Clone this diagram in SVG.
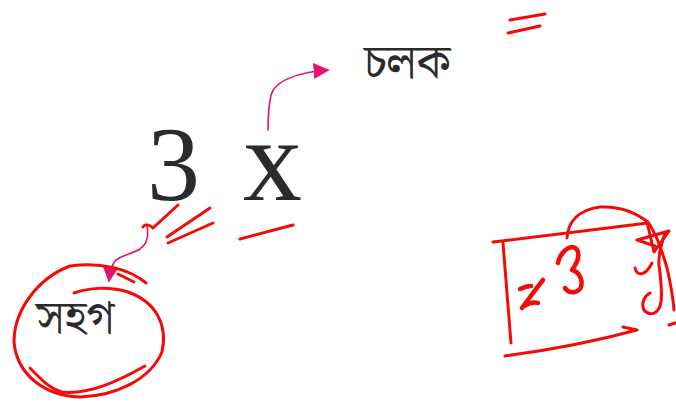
<svg xmlns="http://www.w3.org/2000/svg" width="676" height="405" viewBox="0 0 676 405">
<style>
.ink{fill:none;stroke:#f50a0a;stroke-width:3;stroke-linecap:round;stroke-linejoin:round}
.thick{stroke-width:4.5}
.pk{fill:none;stroke:#e8136e;stroke-width:1.6;stroke-linecap:round}
.math{font-family:"Liberation Serif","DejaVu Serif",serif;fill:#2b2b2b}
.bn{font-family:"Noto Serif Bengali","Noto Sans Bengali","Lohit Bengali","Noto Sans",sans-serif;fill:#2b2b2b}
</style>
<defs>
<marker id="ah" viewBox="0 0 10 10" refX="9" refY="5" markerWidth="16" markerHeight="16" markerUnits="userSpaceOnUse" orient="auto">
<path d="M0,0 L10,5 L0,10 Z" fill="#e8136e"/>
</marker>
</defs>
<g id="coef-num"><text class="math" x="147" y="200" font-size="106">3</text></g>
<g id="var-x"><text class="math" x="243" y="200" font-size="118">x</text></g>
<g id="label-variable"><text class="bn" x="364" y="78" font-size="48">চলক</text></g>
<g id="label-coef"><text class="bn" x="36" y="333" font-size="47">সহগ</text></g>
<g id="connectors">
<path class="pk" d="M268,130 C268,118 269,105 271,95 C275,80 300,72 328,70" marker-end="url(#ah)"/>
<path class="pk" d="M147,226 C149,236 147,244 140,249 C132,254 121,255 115,261 C112,265 110,272 109,281" marker-end="url(#ah)"/>
</g>
<g id="annotations">
<path class="ink" d="M146,283 C128,268 100,262 70,266 C38,278 14,310 14,342 C17,375 45,396 80,397 C115,396 150,380 162,352 C168,325 156,302 128,292 C108,286 88,288 74,293"/>
<path class="ink" d="M118,274 L134,282"/>
<path class="ink" d="M30,368 C38,376 48,388 62,392 C90,395 120,380 145,366"/>
<path class="ink" d="M143,227 C145,224 149,224 153,228 L178,205"/>
<path class="ink" d="M210,208 L167,237"/>
<path class="ink" d="M168,243 L213,223"/>
<path class="ink" d="M240,239 L293,225"/>
<path class="ink" d="M510,20 L545,14"/>
<path class="ink" d="M508,33 L540,26"/>
<path class="ink" d="M493,242 L648,223"/>
<path class="ink" d="M503,243 L511,343"/>
<path class="ink" d="M505,356 C550,350 600,340 637,330 L623,327"/>
<path class="ink" d="M567,238 C568,222 578,210 600,207 C618,206 635,212 648,222 C655,232 662,250 667,268 C671,285 673,298 674,310"/>
<path class="ink thick" d="M520,289 C524,287 528,286 531,286 M522,308 C528,300 538,286 543,280 M524,306 C529,303 534,302 538,303"/>
<path class="ink thick" d="M558,263 C559,256 565,248 572,247 C580,248 581,258 572,270 C580,272 584,282 580,289 C575,294 568,293 565,288"/>
<path class="ink" d="M637,240 L669,231 L654,252 L647,222 M637,240 L655,246"/>
<path class="ink" d="M635,268 C637,276 645,277 652,263"/>
<path class="ink" d="M665,233 C661,245 658,255 659,265 C661,280 662,295 661,302 C659,314 650,317 644,310 C641,304 644,296 650,293"/>
<path class="ink" d="M669,325 L675,323"/>
</g>
</svg>
